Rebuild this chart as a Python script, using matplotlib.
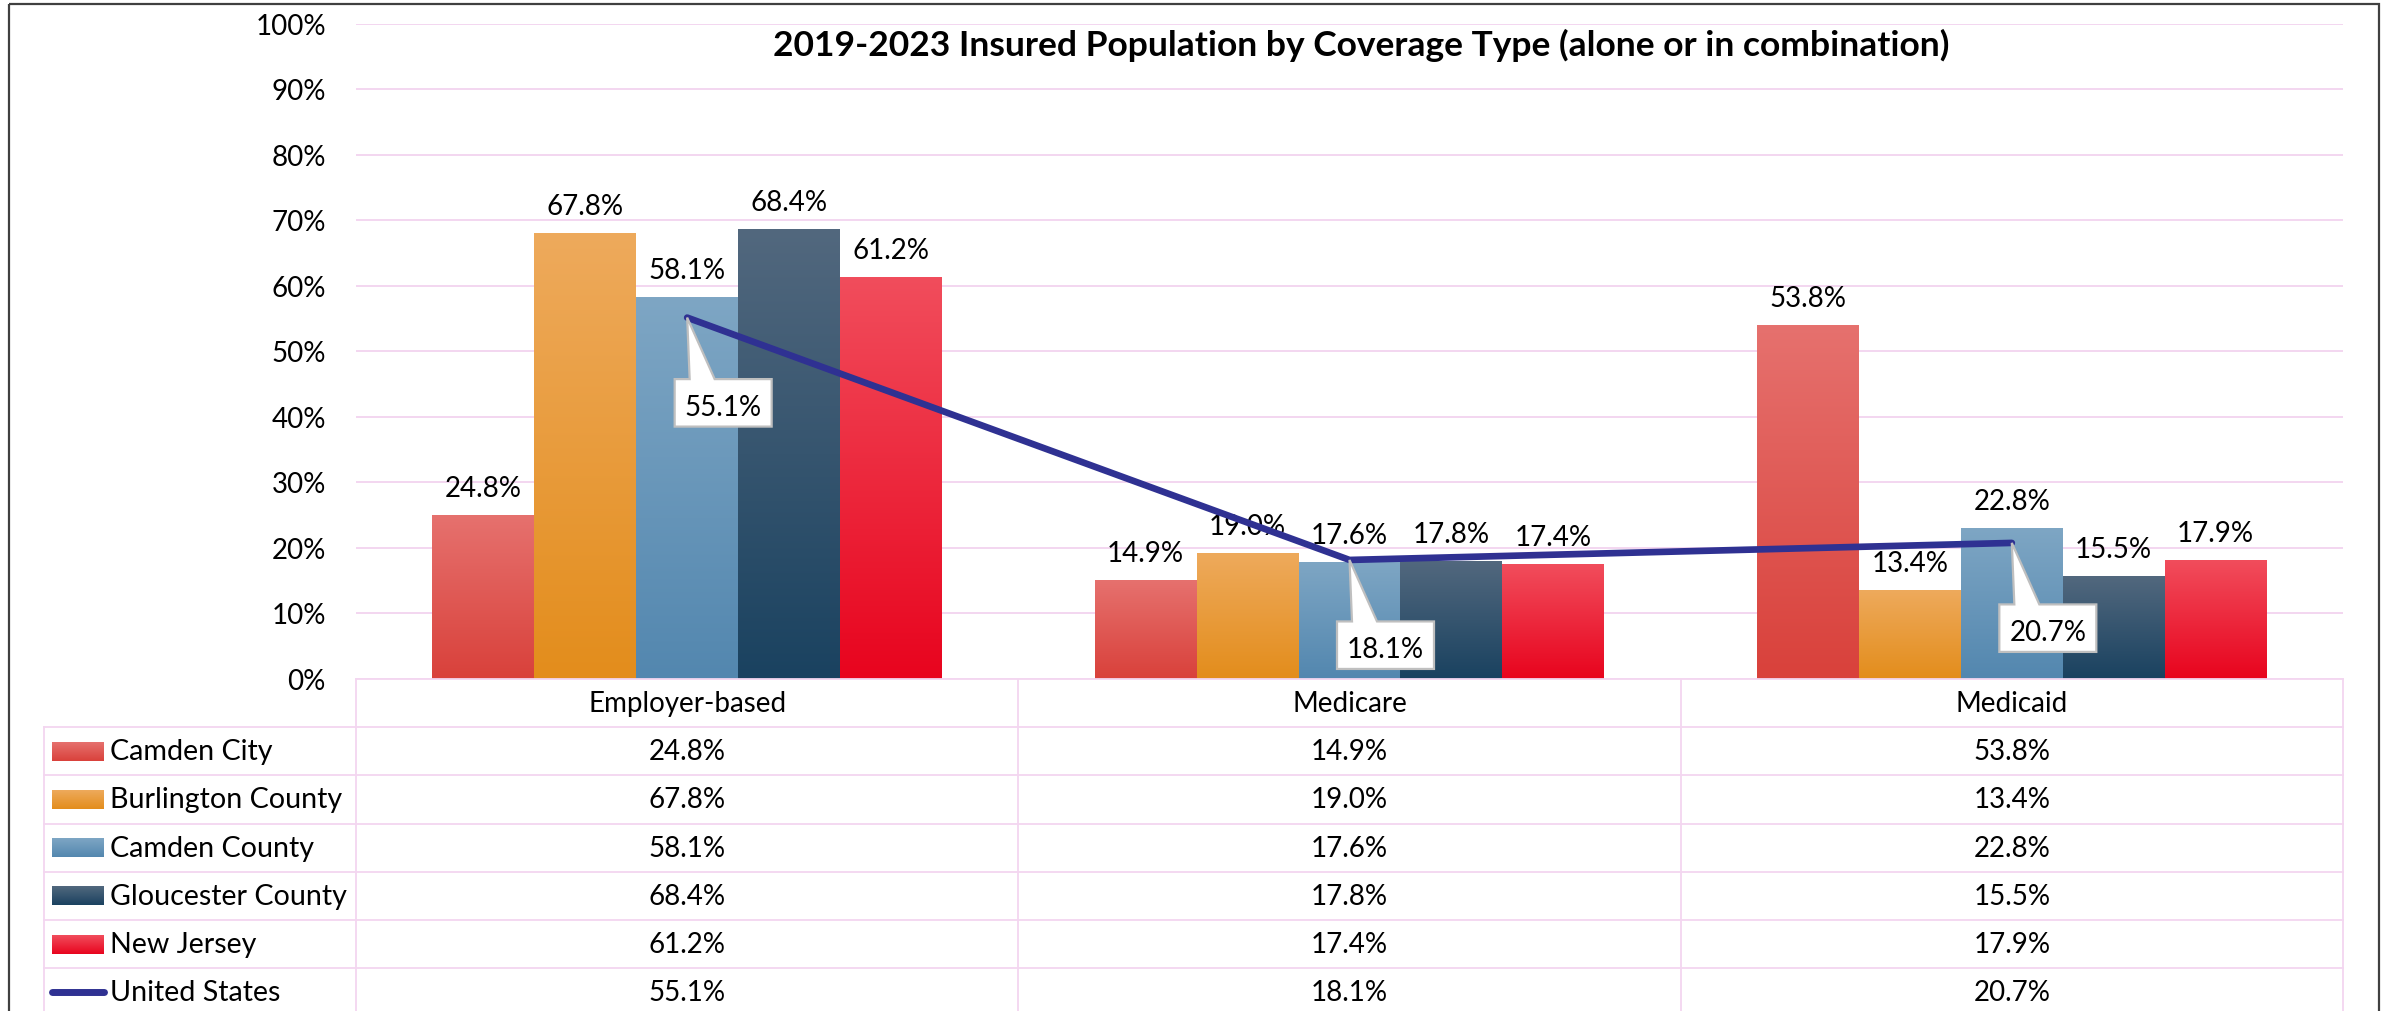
import matplotlib
matplotlib.use('Agg')
import matplotlib.pyplot as plt
import matplotlib.transforms as mtransforms
from matplotlib.colors import LinearSegmentedColormap
from matplotlib.patches import Polygon, Rectangle
from matplotlib.lines import Line2D
import numpy as np

# ---------------- data ----------------
categories = ["Employer-based", "Medicare", "Medicaid"]
series_names = ["Camden City", "Burlington County", "Camden County",
                "Gloucester County", "New Jersey"]
camden_city = [24.8, 14.9, 53.8]
burlington_county = [67.8, 19.0, 13.4]
camden_county = [58.1, 17.6, 22.8]
gloucester_county = [68.4, 17.8, 15.5]
new_jersey = [61.2, 17.4, 17.9]
line_name = "United States"
united_states = [55.1, 18.1, 20.7]
yticks = [0, 10, 20, 30, 40, 50, 60, 70, 80, 90, 100]
title = "2019-2023 Insured Population by Coverage Type (alone or in combination)"

# ---------------- style ----------------
top_colors = ['#E6716E', '#EEAA5C', '#7EA6C4', '#52687E', '#F14D5C']
bot_colors = ['#D9413B', '#E38D1C', '#5387AF', '#1A4260', '#E8041E']
line_color = '#2F3192'
pink = '#F3D6F0'
FS = 20

plt.rcParams['font.family'] = ['Lato', 'DejaVu Sans']

W, H = 2389, 1012
fig = plt.figure(figsize=(W / 100, H / 100), dpi=100)

def fx(px):
    return px / W

def fy(py):
    return 1 - py / H

ax_left, ax_right, ax_top, ax_bottom = 356, 2343, 24.5, 679.5
ax = fig.add_axes([fx(ax_left), fy(ax_bottom), (ax_right - ax_left) / W,
                   (ax_bottom - ax_top) / H])

all_series = [camden_city, burlington_county, camden_county,
              gloucester_county, new_jersey]
x = np.arange(len(categories))
bw = 1 / 6.5
grad = np.linspace(0, 1, 256).reshape(-1, 1)

for i, vals in enumerate(all_series):
    offs = (i - 2) * bw
    bars = ax.bar(x + offs, vals, width=bw, color=bot_colors[i], linewidth=0,
                  zorder=2)
    cmap = LinearSegmentedColormap.from_list(series_names[i],
                                             [bot_colors[i], top_colors[i]])
    for b in bars:
        x0, y0 = b.get_x(), b.get_y()
        ax.imshow(grad, extent=[x0, x0 + b.get_width(), y0, y0 + b.get_height()],
                  origin='lower', cmap=cmap, aspect='auto', zorder=2.1,
                  interpolation='bilinear')
    for xi, v in zip(x + offs, vals):
        ax.annotate(f"{v:.1f}%", (xi, v), xytext=(0, 14.4),
                    textcoords='offset points', ha='center', va='baseline',
                    fontsize=FS, zorder=3)

ax.plot(x, united_states, color=line_color, lw=4.8, zorder=4,
        solid_capstyle='round', solid_joinstyle='round')

# callouts for the line
for xi, v in zip(x, united_states):
    tr = mtransforms.ScaledTranslation(xi, v, ax.transData)
    verts = [(-12.5, -61.5), (2.5, -61.5), (0, 0), (27.5, -61.5),
             (84.5, -61.5), (84.5, -109), (-12.5, -109)]
    poly = Polygon(verts, closed=True, facecolor='white', edgecolor='#BFBFBF',
                   lw=1.6, transform=tr, zorder=5, clip_on=False)
    ax.add_artist(poly)
    ax.annotate(f"{v:.1f}%", (xi, v), xytext=(36, -97),
                textcoords='offset pixels', ha='center', va='baseline',
                fontsize=FS, zorder=6)

ax.set_xlim(-0.5, 2.5)
ax.set_ylim(0, 100)
ax.set_yticks(yticks)
ax.set_yticklabels([f"{t}%" for t in yticks], fontsize=FS)
ax.tick_params(axis='y', length=0, pad=21.6)
ax.set_xticks([])
ax.set_axisbelow(True)
ax.yaxis.grid(True, color=pink, lw=1.4)
for s in ax.spines.values():
    s.set_visible(False)

fig.text(fx(1361), fy(56), title, ha='center', va='baseline', fontsize=25.5,
         fontweight='bold')

# ---------------- data table ----------------
ov = fig.add_axes([0, 0, 1, 1])
ov.set_xlim(0, W)
ov.set_ylim(H, 0)
ov.axis('off')

ncat = len(categories)
colw = (ax_right - ax_left) / ncat
col_edges = [ax_left + k * colw for k in range(ncat + 1)]
row_h = 48.27
header_bot = 728
nrows = len(series_names) + 1
row_lines = [header_bot + k * row_h for k in range(nrows + 1)]
tab_left = 44

for ce in col_edges:
    ov.add_line(Line2D([ce, ce], [ax_bottom, H + 10], color=pink, lw=1.3))
ov.add_line(Line2D([tab_left, tab_left], [header_bot, H + 10], color=pink, lw=1.3))
ov.add_line(Line2D([ax_left, ax_right], [ax_bottom, ax_bottom], color=pink, lw=1.3))
for rl in row_lines:
    ov.add_line(Line2D([tab_left, ax_right], [rl, rl], color=pink, lw=1.3))

hdr_y = (ax_bottom + header_bot) / 2
for k, c in enumerate(categories):
    ov.text((col_edges[k] + col_edges[k + 1]) / 2, hdr_y, c, ha='center',
            va='center', fontsize=FS)

row_vals = all_series + [united_states]
row_names = series_names + [line_name]
for r, (name, vals) in enumerate(zip(row_names, row_vals)):
    yc = (row_lines[r] + row_lines[r + 1]) / 2
    if r < len(series_names):
        cmap = LinearSegmentedColormap.from_list('k' + name,
                                                 [bot_colors[r], top_colors[r]])
        ov.imshow(grad, extent=[52, 104, yc + 9.5, yc - 9.5], origin='lower',
                  cmap=cmap, aspect='auto', interpolation='bilinear')
    else:
        ov.add_line(Line2D([52, 104], [yc, yc], color=line_color, lw=5,
                           solid_capstyle='round'))
    ov.text(110, yc, name, ha='left', va='center', fontsize=20.6)
    for k, v in enumerate(vals):
        ov.text((col_edges[k] + col_edges[k + 1]) / 2, yc, f"{v:.1f}%",
                ha='center', va='center', fontsize=FS)

ov.set_xlim(0, W)
ov.set_ylim(H, 0)

# outer frame
ov.add_patch(Rectangle((9, 5), 2379 - 9, H + 40, fill=False,
                       edgecolor='#404040', lw=1.6, clip_on=False))

fig.savefig('out.png', dpi=100)
